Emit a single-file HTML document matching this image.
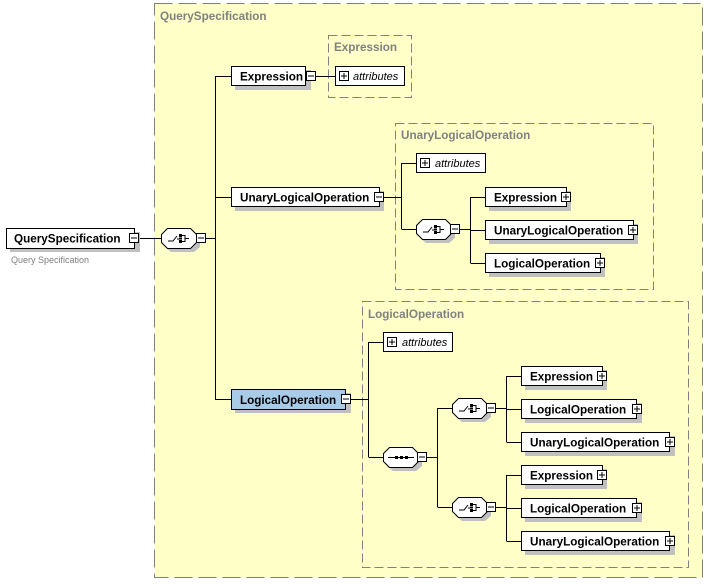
<!DOCTYPE html>
<html><head><meta charset="utf-8"><style>
html,body{margin:0;padding:0;background:#fff;width:709px;height:584px;overflow:hidden}
svg text{font-family:"Liberation Sans",sans-serif;font-size:11px}
.b{font-weight:bold;fill:#000;font-size:11.7px}
.g{font-weight:bold;fill:#808080;font-size:11.7px}
.i{font-style:italic;fill:#000}
</style></head><body>
<svg width="709" height="584" xmlns="http://www.w3.org/2000/svg">
<defs>
<g id="minus"><rect x="0.5" y="0.5" width="9" height="9" fill="#fff" stroke="#000"/><line x1="2" y1="5" x2="8" y2="5" stroke="#000"/></g>
<g id="plus"><rect x="0.5" y="0.5" width="9" height="9" fill="#fff" stroke="#000"/><line x1="2" y1="5" x2="8" y2="5" stroke="#000"/><line x1="5" y1="2" x2="5" y2="8" stroke="#000"/></g>
<g id="choice">
<polygon points="10,4 31,4 39,12 39,19 33,24 10,24 4,19 4,12" fill="#c0c0c0"/>
<polygon points="6.5,0.5 29.5,0.5 35.5,6.5 35.5,14.5 29.5,20.5 6.5,20.5 0.5,14.5 0.5,6.5" fill="#fff" stroke="#000"/>
<path d="M7 13 H12 L16 8 M16 11 H18" stroke="#000" fill="none"/>
<rect x="18" y="6" width="3" height="3" fill="#000"/><rect x="18" y="9.5" width="3" height="2" fill="#000"/><rect x="18" y="12" width="3" height="3" fill="#000"/>
<path d="M21 7.5 H24 V13.5 H21 M24 10.5 H28" stroke="#000" fill="none"/>
</g>
<g id="seq">
<polygon points="10,4 31,4 39,12 39,19 33,24 10,24 4,19 4,12" fill="#c0c0c0"/>
<polygon points="6.5,0.5 29.5,0.5 35.5,6.5 35.5,14.5 29.5,20.5 6.5,20.5 0.5,14.5 0.5,6.5" fill="#fff" stroke="#000"/>
<line x1="5" y1="10.5" x2="31" y2="10.5" stroke="#000"/>
<rect x="12" y="9" width="3" height="3" fill="#000"/><rect x="17" y="9" width="3" height="3" fill="#000"/><rect x="22" y="9" width="3" height="3" fill="#000"/>
</g>
</defs>

<rect x="154.5" y="3.5" width="548" height="574" fill="#ffffc8" stroke="#808080" stroke-dasharray="18,6"/>
<text x="160" y="20" class="g">QuerySpecification</text>

<rect x="328.5" y="35.5" width="83" height="62" fill="none" stroke="#808080" stroke-dasharray="9,4"/>
<text x="334" y="51" class="g">Expression</text>
<rect x="395.5" y="123.5" width="258" height="166" fill="none" stroke="#808080" stroke-dasharray="9,4"/>
<text x="401" y="139" class="g">UnaryLogicalOperation</text>
<rect x="362.5" y="301.5" width="326" height="266" fill="none" stroke="#808080" stroke-dasharray="9,4"/>
<text x="368" y="318" class="g">LogicalOperation</text>

<g stroke="#000" fill="none">
<path d="M139 238.5 H161"/>
<path d="M206 238.5 H215.5 M215.5 76 V400 M215.5 76.5 H231 M215.5 197.5 H231 M215.5 399.5 H231"/>
<path d="M316 76.5 H335"/>
<path d="M384 197.5 H401.5 M401.5 163 V229 M401.5 163.5 H416 M401.5 229.5 H416"/>
<path d="M460 229.5 H470.5 M470.5 197 V263 M470.5 197.5 H485 M470.5 230.5 H485 M470.5 263.5 H485"/>
<path d="M351 399.5 H368.5 M368.5 342 V457 M368.5 342.5 H383 M368.5 457.5 H383"/>
<path d="M427 457.5 H437.5 M437.5 408 V507 M437.5 408.5 H452 M437.5 507.5 H452"/>
<path d="M496 408.5 H506.5 M506.5 376 V442 M506.5 376.5 H521 M506.5 409.5 H521 M506.5 442.5 H521"/>
<path d="M496 507.5 H506.5 M506.5 475 V541 M506.5 475.5 H521 M506.5 508.5 H521 M506.5 541.5 H521"/>
</g>

<rect x="10" y="232" width="130" height="20" fill="#c0c0c0"/>
<rect x="6.5" y="228.5" width="128" height="20" fill="#fff" stroke="#000"/>
<text x="14" y="242.5" class="b">QuerySpecification</text>
<use href="#minus" x="129" y="233"/>
<text x="11" y="263" style="font-size:9px;fill:#808080">Query Specification</text>

<use href="#choice" x="161" y="228"/>
<use href="#minus" x="196" y="233"/>

<rect x="235" y="70" width="76" height="20" fill="#c0c0c0"/>
<rect x="231.5" y="66.5" width="74" height="19" fill="#fff" stroke="#000"/>
<text x="240" y="80.5" class="b">Expression</text>
<use href="#minus" x="306" y="71"/>
<rect x="335.5" y="66.5" width="69" height="19" fill="#fff" stroke="#000"/>
<use href="#plus" x="339" y="71"/>
<text x="353" y="80" class="i">attributes</text>

<rect x="235" y="191" width="149" height="20" fill="#c0c0c0"/>
<rect x="231.5" y="187.5" width="148" height="19" fill="#fff" stroke="#000"/>
<text x="240" y="201.5" class="b">UnaryLogicalOperation</text>
<use href="#minus" x="374" y="192"/>
<rect x="416.5" y="153.5" width="69" height="19" fill="#fff" stroke="#000"/>
<use href="#plus" x="420" y="158"/>
<text x="435" y="167" class="i">attributes</text>
<use href="#choice" x="416" y="219"/>
<use href="#minus" x="450" y="224"/>

<rect x="489" y="191" width="82" height="20" fill="#c0c0c0"/>
<rect x="485.5" y="187.5" width="81" height="19" fill="#fff" stroke="#000"/>
<text x="494" y="201.5" class="b">Expression</text>
<use href="#plus" x="561" y="192"/>
<rect x="489" y="224" width="149" height="20" fill="#c0c0c0"/>
<rect x="485.5" y="220.5" width="148" height="19" fill="#fff" stroke="#000"/>
<text x="494" y="234.5" class="b">UnaryLogicalOperation</text>
<use href="#plus" x="628" y="225"/>
<rect x="489" y="257" width="116" height="20" fill="#c0c0c0"/>
<rect x="485.5" y="253.5" width="115" height="19" fill="#fff" stroke="#000"/>
<text x="494" y="267.5" class="b">LogicalOperation</text>
<use href="#plus" x="595" y="258"/>

<rect x="235" y="393" width="116" height="20" fill="#c0c0c0"/>
<rect x="231.5" y="389.5" width="114" height="20" fill="#a8cce8" stroke="#000"/>
<text x="240" y="404" class="b">LogicalOperation</text>
<use href="#minus" x="341" y="394"/>
<rect x="383.5" y="332.5" width="69" height="19" fill="#fff" stroke="#000"/>
<use href="#plus" x="387" y="337"/>
<text x="402" y="346" class="i">attributes</text>
<use href="#seq" x="383" y="447"/>
<use href="#minus" x="417" y="452"/>
<use href="#choice" x="452" y="398"/>
<use href="#minus" x="486" y="403"/>
<use href="#choice" x="452" y="497"/>
<use href="#minus" x="486" y="502"/>

<g>
<rect x="525" y="370" width="82" height="20" fill="#c0c0c0"/>
<rect x="521.5" y="366.5" width="81" height="19" fill="#fff" stroke="#000"/>
<text x="530" y="380.5" class="b">Expression</text>
<use href="#plus" x="597" y="371"/>
<rect x="525" y="403" width="117" height="20" fill="#c0c0c0"/>
<rect x="521.5" y="399.5" width="115" height="19" fill="#fff" stroke="#000"/>
<text x="530" y="413.5" class="b">LogicalOperation</text>
<use href="#plus" x="632" y="404"/>
<rect x="525" y="436" width="150" height="20" fill="#c0c0c0"/>
<rect x="521.5" y="432.5" width="148" height="19" fill="#fff" stroke="#000"/>
<text x="530" y="446.5" class="b">UnaryLogicalOperation</text>
<use href="#plus" x="665" y="437"/>
</g>
<g>
<rect x="525" y="469" width="82" height="20" fill="#c0c0c0"/>
<rect x="521.5" y="465.5" width="81" height="19" fill="#fff" stroke="#000"/>
<text x="530" y="479.5" class="b">Expression</text>
<use href="#plus" x="597" y="470"/>
<rect x="525" y="502" width="117" height="20" fill="#c0c0c0"/>
<rect x="521.5" y="498.5" width="115" height="19" fill="#fff" stroke="#000"/>
<text x="530" y="512.5" class="b">LogicalOperation</text>
<use href="#plus" x="632" y="503"/>
<rect x="525" y="535" width="150" height="20" fill="#c0c0c0"/>
<rect x="521.5" y="531.5" width="148" height="19" fill="#fff" stroke="#000"/>
<text x="530" y="545.5" class="b">UnaryLogicalOperation</text>
<use href="#plus" x="665" y="536"/>
</g>
</svg>
</body></html>
